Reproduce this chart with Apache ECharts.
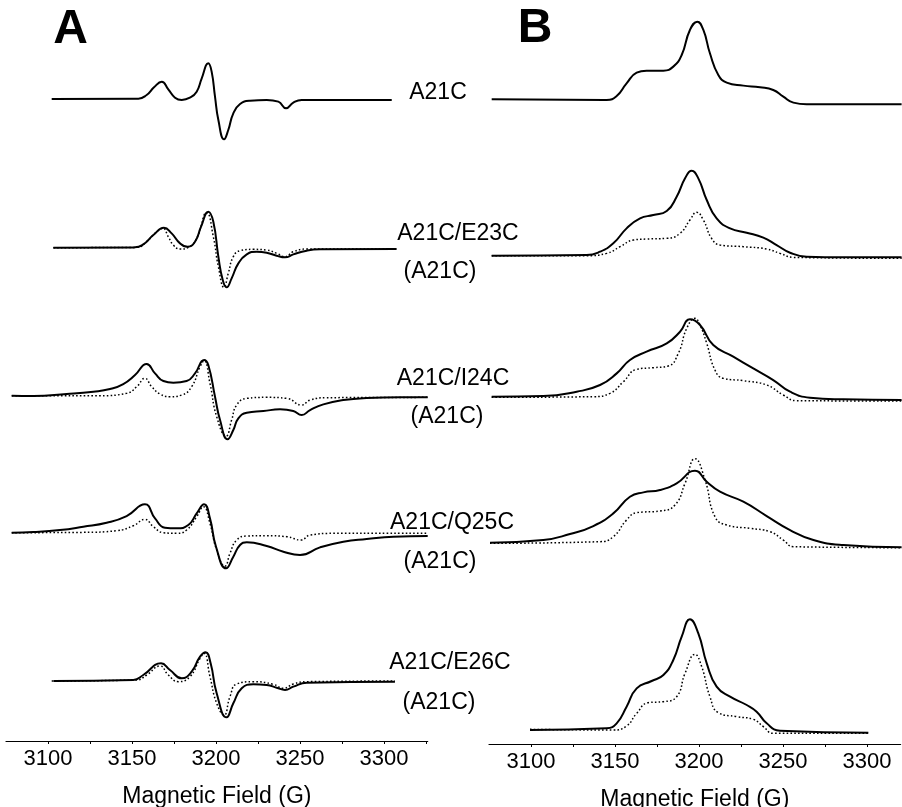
<!DOCTYPE html>
<html><head><meta charset="utf-8">
<script src="https://cdn.jsdelivr.net/npm/echarts@6/dist/echarts.min.js"></script>
<style>html,body{margin:0;padding:0;background:#fff}#c{width:902px;height:807px}</style>
</head><body><div id="c"></div>
<script>
// ---- Data: [magnetic field (G), signal amplitude (arbitrary units)] ----
// Panel A: first-derivative EPR spectra
const A1_solid = [[3102.2,0],[3153.8,1],[3158.7,12],[3163.1,35],[3167.7,52],[3171.6,29],[3175.6,4],[3179.6,-3],[3184.5,4],[3188.5,22],[3191.5,62],[3195.4,107],[3197.4,82],[3199.4,7],[3201.4,-63],[3204.8,-121],[3207.3,-93],[3210.3,-43],[3214.3,-15],[3220.2,-5],[3230.2,-3],[3237.1,-8],[3241.7,-28],[3246.0,-11],[3251.0,-3],[3304.6,-3]];
const A2_solid = [[3103.2,0],[3151.8,1],[3156.7,10],[3162.7,38],[3169.0,60],[3173.6,43],[3178.6,13],[3183.1,3],[3187.5,18],[3191.1,63],[3195.4,108],[3198.4,78],[3201.4,-27],[3204.0,-97],[3206.3,-119],[3209.3,-92],[3213.3,-47],[3218.3,-20],[3224.2,-12],[3230.2,-15],[3236.1,-24],[3241.1,-29],[3246.0,-20],[3254.0,-9],[3261.9,-5],[3307.5,-4]];
const A2_ref = [[3103.2,0],[3152.8,1],[3158.7,18],[3164.7,48],[3168.3,58],[3171.6,33],[3174.6,8],[3178.6,-4],[3183.5,1],[3188.5,28],[3194.4,105],[3198.4,33],[3201.4,-57],[3204.8,-119],[3207.3,-77],[3210.3,-27],[3214.3,-9],[3222.2,-5],[3230.2,-7],[3236.1,-17],[3241.1,-27],[3246.0,-12],[3254.0,-4],[3307.5,-4]];
const A3_solid = [[3078.4,0],[3091.3,-1],[3111.1,5],[3127.0,12],[3136.9,20],[3144.8,35],[3151.8,62],[3158.7,95],[3163.7,67],[3168.7,44],[3174.6,39],[3182.5,44],[3187.5,67],[3192.9,107],[3195.4,92],[3199.4,-3],[3202.4,-73],[3206.9,-131],[3210.3,-103],[3213.3,-68],[3218.3,-51],[3228.2,-46],[3238.1,-41],[3246.0,-46],[3251.0,-58],[3256.0,-43],[3263.9,-26],[3275.8,-13],[3289.7,-7],[3309.5,-5],[3326.0,-5]];
const A3_ref = [[3078.4,0],[3131.0,0],[3146.8,7],[3152.8,27],[3157.7,52],[3161.7,27],[3166.7,5],[3172.6,-3],[3179.6,2],[3185.5,27],[3190.5,87],[3192.9,105],[3196.4,37],[3200.4,-63],[3206.0,-121],[3209.3,-73],[3212.3,-28],[3218.3,-8],[3230.2,-5],[3242.1,-8],[3251.0,-28],[3256.0,-13],[3265.9,-6],[3326.0,-5]];
const A4_solid = [[3078.4,0],[3091.3,2],[3107.1,8],[3121.0,18],[3134.9,30],[3146.8,50],[3157.7,85],[3163.7,43],[3169.6,15],[3176.6,13],[3183.5,23],[3188.5,58],[3192.9,85],[3196.4,43],[3200.0,-42],[3206.0,-107],[3210.3,-72],[3214.3,-37],[3218.3,-29],[3230.2,-40],[3240.1,-57],[3250.0,-67],[3261.9,-44],[3275.8,-27],[3289.7,-19],[3305.6,-12],[3326.0,-10]];
const A4_ref = [[3078.4,0],[3121.0,1],[3140.9,6],[3150.8,21],[3157.7,40],[3162.7,18],[3168.7,0],[3176.6,-2],[3182.5,8],[3188.5,48],[3192.5,78],[3196.4,28],[3200.4,-52],[3205.4,-100],[3208.3,-62],[3212.3,-22],[3218.3,-10],[3230.2,-9],[3242.1,-12],[3250.6,-22],[3256.0,-7],[3269.8,-2],[3326.0,-2]];
const A5_solid = [[3103.2,0],[3150.8,3],[3156.7,18],[3167.3,53],[3172.6,33],[3179.6,8],[3185.5,28],[3190.5,73],[3193.8,86],[3196.8,53],[3200.4,-37],[3206.3,-109],[3210.3,-67],[3215.3,-22],[3222.2,-10],[3230.2,-12],[3236.1,-20],[3241.1,-27],[3246.0,-17],[3254.0,-5],[3306.5,-2]];
const A5_ref = [[3102.2,0],[3152.8,3],[3158.7,18],[3166.7,45],[3171.6,18],[3177.6,-2],[3184.5,13],[3190.5,68],[3192.9,83],[3196.4,13],[3200.4,-67],[3204.8,-102],[3208.3,-47],[3212.3,-9],[3222.2,-2],[3234.1,-10],[3240.1,-22],[3246.0,-9],[3254.0,-2],[3306.5,0]];
// Panel B: integrated (absorption) spectra
const B1_solid = [[3076.6,0],[3145.0,-2],[3151.0,10],[3156.9,48],[3162.9,80],[3168.8,86],[3178.8,86],[3184.7,98],[3189.7,133],[3194.6,208],[3199.0,233],[3202.6,208],[3206.5,138],[3211.5,73],[3216.5,50],[3226.4,41],[3236.3,36],[3244.2,28],[3250.2,8],[3256.2,-10],[3264.1,-15],[3295.8,-15],[3320.6,-15]];
const B2_solid = [[3076.6,0],[3133.1,2],[3141.1,12],[3149.0,37],[3156.9,82],[3164.9,112],[3172.8,122],[3180.8,134],[3186.7,177],[3191.7,232],[3195.6,255],[3199.6,232],[3204.6,167],[3210.5,112],[3218.5,82],[3228.4,69],[3238.3,54],[3246.2,32],[3254.2,9],[3264.1,-3],[3285.9,-5],[3320.6,-5]];
const B2_ref = [[3076.6,0],[3133.1,0],[3145.0,7],[3153.0,27],[3160.9,47],[3168.8,50],[3180.8,52],[3188.7,67],[3194.6,107],[3198.6,130],[3202.6,107],[3207.5,52],[3212.5,32],[3226.4,27],[3240.3,20],[3248.2,7],[3256.2,-5],[3320.6,-8]];
const B3_solid = [[3076.6,0],[3107.3,2],[3127.2,15],[3141.1,35],[3151.0,70],[3158.9,110],[3168.8,135],[3180.8,160],[3188.7,195],[3194.6,232],[3200.6,215],[3208.5,155],[3220.4,120],[3232.3,85],[3244.2,50],[3254.2,15],[3266.1,-3],[3285.9,-8],[3320.6,-10]];
const B3_ref = [[3076.6,-2],[3137.1,0],[3147.0,10],[3155.0,45],[3162.9,82],[3172.8,87],[3181.7,92],[3187.7,130],[3192.7,205],[3197.6,235],[3200.6,215],[3204.6,160],[3209.5,80],[3214.5,55],[3226.4,48],[3240.3,35],[3250.2,5],[3258.1,-12],[3320.6,-13]];
const B4_solid = [[3075.6,0],[3107.3,8],[3123.2,26],[3137.1,50],[3149.0,88],[3158.9,138],[3166.9,151],[3176.8,158],[3186.7,178],[3197.6,216],[3204.6,183],[3212.5,153],[3226.4,123],[3240.3,80],[3254.2,38],[3268.1,8],[3285.9,-7],[3320.6,-14]];
const B4_ref = [[3075.6,-2],[3141.1,3],[3149.0,18],[3156.9,68],[3162.9,90],[3176.8,95],[3185.7,113],[3191.7,178],[3197.6,252],[3203.6,188],[3209.5,78],[3216.5,53],[3230.4,43],[3242.3,33],[3250.2,8],[3256.2,-12],[3320.6,-15]];
const B5_solid = [[3099.4,0],[3145.0,5],[3151.0,20],[3156.9,70],[3162.9,125],[3171.8,147],[3178.8,165],[3184.7,210],[3189.7,280],[3194.6,332],[3199.6,290],[3204.6,200],[3210.5,130],[3218.5,100],[3228.4,75],[3234.3,55],[3240.3,20],[3248.2,-2],[3300.8,-8]];
const B5_ref = [[3099.4,2],[3149.0,0],[3156.9,12],[3162.9,50],[3169.8,82],[3178.8,85],[3186.7,100],[3191.7,170],[3197.6,227],[3201.6,190],[3206.5,100],[3211.5,52],[3222.4,40],[3232.3,32],[3238.3,10],[3244.2,-10],[3300.8,-10]];

const fieldTickLabels = [3100, 3150, 3200, 3250, 3300];
const sampleLabels = ['A21C', 'A21C/E23C', 'A21C/I24C', 'A21C/Q25C', 'A21C/E26C'];
const refLabel = '(A21C)';
const panelLetters = ['A', 'B'];
const axisTitle = 'Magnetic Field (G)';

// ---- Layout (pixels) ----
const FONT = 'Liberation Sans, Arial, Helvetica, sans-serif';
const UNIT = 3; // amplitude units per pixel
const panels = [
  { left: 6, width: 421.7, min: 3075, max: 3326,
    base: [99, 247.7, 395.7, 532.7, 681], up: [60,60,60,60,60], down: [60,60,60,60,60],
    solid: [A1_solid, A2_solid, A3_solid, A4_solid, A5_solid],
    ref: [null, A2_ref, A3_ref, A4_ref, A5_ref] },
  { left: 489, width: 411.6, min: 3075, max: 3320,
    base: [99.3, 255.7, 396.7, 542.7, 730], up: [90,120,120,120,120], down: [40,40,40,40,14],
    solid: [B1_solid, B2_solid, B3_solid, B4_solid, B5_solid],
    ref: [null, B2_ref, B3_ref, B4_ref, B5_ref] }
];

const SMOOTH = 0.5;
const grid = [], xAxis = [], yAxis = [], series = [];
panels.forEach((p, pi) => {
  for (let i = 0; i < 5; i++) {
    const idx = grid.length;
    const isAxis = i === 4;
    grid.push({ left: p.left, width: p.width, top: p.base[i] - p.up[i], height: p.up[i] + p.down[i],
      containLabel: false, outerBoundsMode: 'none' });
    xAxis.push({
      type: 'value', gridIndex: idx, min: p.min, max: p.max, interval: 25,
      show: isAxis,
      axisLine: { show: true, onZero: false, lineStyle: { color: '#000', width: 1.2 } },
      axisTick: { show: true, inside: false, length: 3, lineStyle: { color: '#000', width: 1 } },
      splitLine: { show: false },
      axisLabel: { show: true, margin: 7, color: '#000', fontSize: 22, fontFamily: FONT,
        showMinLabel: false, showMaxLabel: false,
        formatter: v => (fieldTickLabels.indexOf(v) >= 0 ? String(v) : '') },
      name: isAxis ? axisTitle : '', nameLocation: 'middle', nameGap: 44,
      nameTextStyle: { color: '#000', fontSize: 23, fontFamily: FONT }
    });
    yAxis.push({ type: 'value', gridIndex: idx, min: -p.down[i] * UNIT, max: p.up[i] * UNIT, show: false });
    if (p.ref[i]) {
      series.push({ type: 'line', xAxisIndex: idx, yAxisIndex: idx, data: p.ref[i], showSymbol: false,
        smooth: SMOOTH, clip: false, silent: true,
        lineStyle: { color: '#000', width: 1.5, type: [1.6, 2.2] }, z: 2 });
    }
    series.push({ type: 'line', xAxisIndex: idx, yAxisIndex: idx, data: p.solid[i], showSymbol: false,
      smooth: SMOOTH, clip: false, silent: true,
      lineStyle: { color: '#000', width: 2 }, z: 3 });
  }
});

const txt = (s, x, y, size, weight, align) => ({ type: 'text', x, y, silent: true,
  style: { text: s, fill: '#000', fontSize: size, fontWeight: weight || 'normal', fontFamily: FONT,
    align: align || 'center', verticalAlign: 'middle' } });

const graphic = [
  txt(panelLetters[0], 70.5, 29.5, 48, 'bold'),
  txt(panelLetters[1], 535, 29, 48, 'bold'),
  txt(sampleLabels[0], 438, 93, 23),
  txt(sampleLabels[1], 458, 234, 23),
  txt(refLabel, 440, 272, 23),
  txt(sampleLabels[2], 453, 379, 23),
  txt(refLabel, 447, 417, 23),
  txt(sampleLabels[3], 452, 523, 23),
  txt(refLabel, 440, 562, 23),
  txt(sampleLabels[4], 450, 663, 23),
  txt(refLabel, 439, 703, 23)
];

const chart = echarts.init(document.getElementById('c'), null, { renderer: 'canvas' });
chart.setOption({ animation: false, backgroundColor: '#fff', grid, xAxis, yAxis, series, graphic });
</script></body></html>
